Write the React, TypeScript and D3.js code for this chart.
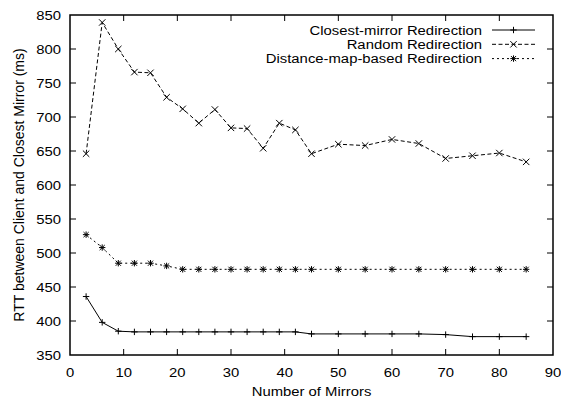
import React from "react";
import * as d3 from "d3";

const xValues = [3, 6, 9, 12, 15, 18, 21, 24, 27, 30, 33, 36, 39, 42, 45, 50, 55, 60, 65, 70, 75, 80, 85];
const closestMirror = [436, 398, 385, 384, 384, 384, 384, 384, 384, 384, 384, 384, 384, 384, 381, 381, 381, 381, 381, 380, 377, 377, 377];
const randomRedirection = [646, 839, 800, 766, 765, 729, 712, 691, 711, 684, 683, 654, 691, 681, 646, 660, 658, 667, 661, 639, 643, 647, 634];
const distanceMap = [527, 508, 485, 485, 485, 481, 476, 476, 476, 476, 476, 476, 476, 476, 476, 476, 476, 476, 476, 476, 476, 476, 476];
const xTicks = [0, 10, 20, 30, 40, 50, 60, 70, 80, 90];
const yTicks = [350, 400, 450, 500, 550, 600, 650, 700, 750, 800, 850];
const seriesNames = ["Closest-mirror Redirection", "Random Redirection", "Distance-map-based Redirection"];

const W = 561, H = 400;
const L = 70, R = 553, T = 15, B = 355;
const FONT = "'Liberation Sans', Arial, Helvetica, sans-serif";
const FS = 13.5;
const SX = 1.1;

type Marker = "plus" | "cross" | "star";

function MarkerShape({ type, x, y }: { type: Marker; x: number; y: number }) {
  const s = 3.2;
  const parts: string[] = [];
  if (type === "plus" || type === "star") {
    parts.push(`M${x - s},${y}L${x + s},${y}M${x},${y - s}L${x},${y + s}`);
  }
  if (type === "cross" || type === "star") {
    const c = type === "star" ? s * 0.8 : s;
    parts.push(`M${x - c},${y - c}L${x + c},${y + c}M${x - c},${y + c}L${x + c},${y - c}`);
  }
  return <path d={parts.join("")} stroke="#000" strokeWidth={1} fill="none" />;
}

function Txt({ x, y, anchor, children }: { x: number; y: number; anchor: "start" | "middle" | "end"; children: React.ReactNode }) {
  return (
    <text transform={`translate(${x},${y}) scale(${SX},1)`} textAnchor={anchor} fontSize={FS} fill="#000">
      {children}
    </text>
  );
}

export default function App() {
  const x = d3.scaleLinear().domain([0, 90]).range([L, R]);
  const y = d3.scaleLinear().domain([350, 850]).range([B, T]);
  const line = d3
    .line<[number, number]>()
    .x((d) => x(d[0]))
    .y((d) => y(d[1]));

  const series: { name: string; values: number[]; marker: Marker; dash: string }[] = [
    { name: seriesNames[0], values: closestMirror, marker: "plus", dash: "" },
    { name: seriesNames[1], values: randomRedirection, marker: "cross", dash: "4,2.5" },
    { name: seriesNames[2], values: distanceMap, marker: "star", dash: "2,3" },
  ];

  const tickLen = 6;

  return (
    <svg width={W} height={H} style={{ position: "absolute", left: 0, top: 0, background: "#fff" }} fontFamily={FONT}>
      <rect x={0} y={0} width={W} height={H} fill="#fff" />
      {/* ticks */}
      {xTicks.map((t) => (
        <g key={"xt" + t}>
          {t > 0 && t < 90 && (
            <>
              <line x1={x(t)} x2={x(t)} y1={B} y2={B - tickLen} stroke="#000" strokeWidth={1} />
              <line x1={x(t)} x2={x(t)} y1={T} y2={T + tickLen} stroke="#000" strokeWidth={1} />
            </>
          )}
          <Txt x={x(t)} y={376.5} anchor="middle">
            {t}
          </Txt>
        </g>
      ))}
      {yTicks.map((t) => (
        <g key={"yt" + t}>
          {t > 350 && t < 850 && (
            <>
              <line x1={L} x2={L + tickLen} y1={y(t)} y2={y(t)} stroke="#000" strokeWidth={1} />
              <line x1={R} x2={R - tickLen} y1={y(t)} y2={y(t)} stroke="#000" strokeWidth={1} />
            </>
          )}
          <Txt x={61} y={y(t) + 5} anchor="end">
            {t}
          </Txt>
        </g>
      ))}
      {/* series */}
      {series.map((s, i) => {
        const pts: [number, number][] = xValues.map((xv, j) => [xv, s.values[j]]);
        return (
          <g key={"s" + i}>
            <path d={line(pts) || ""} fill="none" stroke="#000" strokeWidth={1} strokeDasharray={s.dash || undefined} />
            {pts.map((p, j) => (
              <MarkerShape key={j} type={s.marker} x={x(p[0])} y={y(p[1])} />
            ))}
          </g>
        );
      })}
      {/* legend */}
      {series.map((s, i) => {
        const ly = 30 + i * 14.3;
        return (
          <g key={"lg" + i}>
            <Txt x={482} y={ly + 4.8} anchor="end">
              {s.name}
            </Txt>
            <line x1={492} x2={535} y1={ly} y2={ly} stroke="#000" strokeWidth={1} strokeDasharray={s.dash || undefined} />
            <MarkerShape type={s.marker} x={513.5} y={ly} />
          </g>
        );
      })}
      {/* frame */}
      <rect x={L} y={T} width={R - L} height={B - T} fill="none" stroke="#000" strokeWidth={1.5} />
      {/* axis titles */}
      <Txt x={(L + R) / 2} y={396} anchor="middle">
        Number of Mirrors
      </Txt>
      <text
        transform={`translate(24, ${(T + B) / 2}) rotate(-90)`}
        textAnchor="middle"
        fontSize={14}
        fill="#000"
      >
        RTT between Client and Closest Mirror (ms)
      </text>
    </svg>
  );
}
